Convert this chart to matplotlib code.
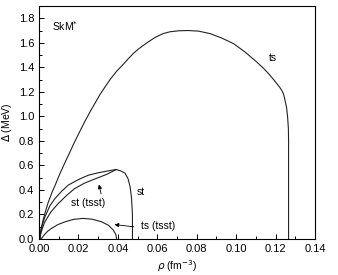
import matplotlib
matplotlib.use("Agg")
import matplotlib.pyplot as plt
from matplotlib.ticker import MultipleLocator

plt.rcParams['font.family'] = ['Liberation Sans', 'DejaVu Sans']

# curves (rho in fm^-3, Delta in MeV)
ts_rho = [0.0004, 0.001, 0.002, 0.003, 0.0045, 0.0066, 0.0085, 0.010, 0.0125, 0.0157,
          0.018, 0.0208, 0.0233, 0.026, 0.0285, 0.031, 0.0335, 0.0365, 0.0395, 0.0425,
          0.0453, 0.048, 0.0505, 0.053, 0.0554, 0.059, 0.063, 0.0665, 0.071, 0.0756,
          0.081, 0.0867, 0.0925, 0.0986, 0.1045, 0.1104, 0.114, 0.1172, 0.120, 0.1222,
          0.1231, 0.1241, 0.1248, 0.1256, 0.1261, 0.1265, 0.1266, 0.1266]
ts_gap = [0.0, 0.08, 0.15, 0.21, 0.29, 0.38, 0.45, 0.51, 0.60, 0.71,
          0.79, 0.88, 0.96, 1.04, 1.11, 1.18, 1.24, 1.31, 1.37, 1.42,
          1.47, 1.515, 1.55, 1.58, 1.607, 1.645, 1.675, 1.69, 1.698, 1.70,
          1.695, 1.675, 1.64, 1.594, 1.525, 1.444, 1.39, 1.335, 1.28, 1.235,
          1.213, 1.18, 1.13, 1.07, 0.996, 0.90, 0.80, 0.0]

st_rho = [0.0004, 0.001, 0.002, 0.003, 0.0055, 0.0081, 0.0115, 0.0149, 0.020, 0.025,
          0.030, 0.035, 0.0391, 0.0415, 0.0436, 0.0452, 0.0462, 0.0469, 0.0474, 0.0474]
st_gap = [0.0, 0.07, 0.13, 0.18, 0.27, 0.33, 0.39, 0.44, 0.485, 0.52,
          0.54, 0.555, 0.567, 0.555, 0.537, 0.49, 0.426, 0.34, 0.2, 0.0]

st_tsst_rho = [0.0004, 0.001, 0.002, 0.003, 0.006, 0.0098, 0.014, 0.018, 0.023, 0.0284,
               0.034, 0.0391]
st_tsst_gap = [0.0, 0.05, 0.1, 0.14, 0.22, 0.29, 0.355, 0.41, 0.455, 0.49,
               0.525, 0.565]

ts_tsst_rho = [0.001, 0.002, 0.003, 0.0045, 0.0064, 0.0095, 0.0132, 0.0175, 0.0225, 0.027,
               0.0318, 0.0352, 0.0377, 0.0390, 0.0394]
ts_tsst_gap = [0.0, 0.02, 0.04, 0.065, 0.087, 0.117, 0.14, 0.16, 0.168, 0.161,
               0.14, 0.112, 0.073, 0.035, 0.0]

fig = plt.figure(figsize=(3.38, 2.75), dpi=100)
ax = fig.add_axes([39 / 338, 1 - 239 / 275, 276 / 338, 233 / 275])

for x, y in [(ts_rho, ts_gap), (st_rho, st_gap), (st_tsst_rho, st_tsst_gap),
             (ts_tsst_rho, ts_tsst_gap)]:
    ax.plot(x, y, color='#222222', lw=0.8)

ax.set_xlim(0, 0.14)
ax.set_ylim(0, 1.9)
ax.xaxis.set_major_locator(MultipleLocator(0.02))
ax.xaxis.set_minor_locator(MultipleLocator(0.01))
ax.yaxis.set_major_locator(MultipleLocator(0.2))
ax.yaxis.set_minor_locator(MultipleLocator(0.1))
ax.xaxis.set_major_formatter(plt.FormatStrFormatter('%.2f'))
ax.yaxis.set_major_formatter(plt.FormatStrFormatter('%.1f'))
ax.tick_params(which='both', direction='in', labelsize=8, width=0.7)
ax.tick_params(which='major', length=3.5)
ax.tick_params(which='minor', length=2)
for s in ax.spines.values():
    s.set_linewidth(0.8)

ax.set_xlabel(r'$\rho$ (fm$^{-3}$)', fontsize=7.5, labelpad=3)
ax.set_ylabel(r'$\Delta$ (MeV)', fontsize=7.5, labelpad=3)

ax.text(0.0065, 1.74, r'SkM$^{*}$', fontsize=7.5, va='center')
ax.text(0.1165, 1.48, 'ts', fontsize=7.5, va='center')
ax.text(0.0498, 0.38, 'st', fontsize=7.5, va='center')
ax.text(0.025, 0.29, 'st (tsst)', fontsize=7.5, va='center', ha='center')
ax.text(0.0515, 0.105, 'ts (tsst)', fontsize=7.5, va='center')

arrow = dict(arrowstyle='-|>', color='black', lw=0.6, mutation_scale=6)
ax.annotate('', xy=(0.0301, 0.467), xytext=(0.0318, 0.345), arrowprops=arrow)
ax.annotate('', xy=(0.0369, 0.12), xytext=(0.0495, 0.097), arrowprops=arrow)

fig.savefig('out.png', dpi=100)
